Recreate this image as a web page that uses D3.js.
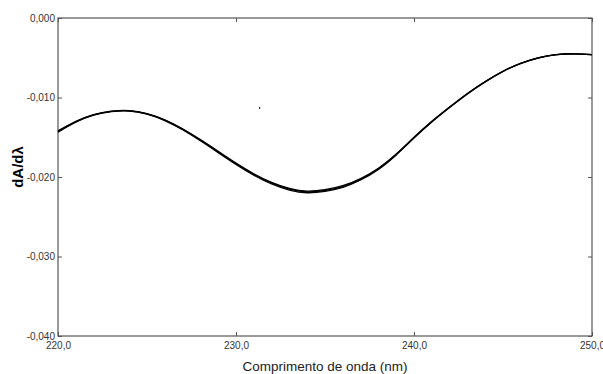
<!DOCTYPE html>
<html><head><meta charset="utf-8">
<script src="https://cdn.jsdelivr.net/npm/d3@7"></script>
<style>body{margin:0;background:#fff;}svg{display:block;}</style>
</head><body>
<script>
const wavelengths = [220,221,222,223,224,225,226,227,228,229,230,231,232,233,234,235,236,237,238,239,240,241,242,243,244,245,246,247,248,249,250];
const seriesA = [-0.01420,-0.01300,-0.01215,-0.01172,-0.01164,-0.01202,-0.01280,-0.01394,-0.01530,-0.01677,-0.01825,-0.01959,-0.02068,-0.02144,-0.02178,-0.02160,-0.02110,-0.02020,-0.01890,-0.01710,-0.01500,-0.01300,-0.01120,-0.00950,-0.00800,-0.00670,-0.00570,-0.00500,-0.00460,-0.00450,-0.00460];
const seriesB = [-0.01435,-0.01310,-0.01222,-0.01178,-0.01170,-0.01210,-0.01290,-0.01406,-0.01545,-0.01694,-0.01843,-0.01978,-0.02088,-0.02164,-0.02198,-0.02180,-0.02130,-0.02038,-0.01905,-0.01722,-0.01510,-0.01308,-0.01126,-0.00955,-0.00804,-0.00673,-0.00572,-0.00502,-0.00461,-0.00451,-0.00461];
const seriesC = [-0.01428,-0.01305,-0.01218,-0.01175,-0.01167,-0.01206,-0.01285,-0.01400,-0.01538,-0.01686,-0.01834,-0.01968,-0.02078,-0.02154,-0.02188,-0.02170,-0.02120,-0.02029,-0.01897,-0.01716,-0.01505,-0.01304,-0.01123,-0.00952,-0.00802,-0.00671,-0.00571,-0.00501,-0.00460,-0.00450,-0.00460];
const strayPoint = [{x:231.3, y:-0.0113}];
const xTicks = [220,230,240,250];
const yTicks = [0,-0.01,-0.02,-0.03,-0.04];
const xTickLabels = ["220,0","230,0","240,0","250,0"];
const yTickLabels = ["0,000","-0,010","-0,020","-0,030","-0,040"];
const xTitle = "Comprimento de onda (nm)";
const yTitle = "dA/dλ";

const W = 603, H = 374;
const m = {left:58, top:18, right:11, bottom:38};
const svg = d3.select("body").append("svg").attr("width",W).attr("height",H);
const x = d3.scaleLinear().domain([220,250]).range([m.left, W-m.right]);
const y = d3.scaleLinear().domain([-0.04,0]).range([H-m.bottom, m.top]);
const font = "'Liberation Sans', Arial, sans-serif";
const axisCol = "#555";

function styleAxis(g){
  g.select(".domain").remove();
  g.selectAll(".tick line").attr("stroke", axisCol);
  g.selectAll(".tick text").attr("fill","#333").style("font-family",font).style("font-size","10px");
}
svg.append("g").attr("transform",`translate(${m.left},0)`)
  .call(d3.axisLeft(y).tickValues(yTicks).tickSize(-4).tickPadding(3).tickFormat((d,i)=>yTickLabels[i]))
  .call(styleAxis);
svg.append("g").attr("transform",`translate(${W-m.right},0)`)
  .call(d3.axisRight(y).tickValues(yTicks).tickSize(-4).tickFormat(""))
  .call(styleAxis);
svg.append("g").attr("transform",`translate(0,${H-m.bottom})`)
  .call(d3.axisBottom(x).tickValues(xTicks).tickSize(-4).tickPadding(6).tickFormat((d,i)=>xTickLabels[i]))
  .call(styleAxis);
svg.append("g").attr("transform",`translate(0,${m.top})`)
  .call(d3.axisTop(x).tickValues(xTicks).tickSize(-4).tickFormat(""))
  .call(styleAxis);
svg.append("rect").attr("x",m.left).attr("y",m.top)
  .attr("width",W-m.left-m.right).attr("height",H-m.top-m.bottom)
  .attr("fill","none").attr("stroke",axisCol).attr("stroke-width",1.2);

const line = d3.line().x((d,i)=>x(wavelengths[i])).y(d=>y(d)).curve(d3.curveNatural);
[seriesA, seriesB, seriesC].forEach(s=>{
  svg.append("path").datum(s).attr("d",line).attr("fill","none")
    .attr("stroke","#000").attr("stroke-width",1.3);
});
svg.selectAll(".stray").data(strayPoint).enter().append("rect")
  .attr("x",d=>x(d.x)).attr("y",d=>y(d.y)-1).attr("width",1).attr("height",2).attr("fill","#000");

svg.append("text").attr("x",(m.left+W-m.right)/2).attr("y",H-3).attr("text-anchor","middle")
  .style("font-family",font).style("font-size","13.5px").attr("fill","#222").text(xTitle);
svg.append("text").attr("transform",`translate(23,${(m.top+H-m.bottom)/2 - 10}) rotate(-90)`)
  .attr("text-anchor","middle").style("font-family",font).style("font-size","15px").style("font-weight","bold")
  .attr("fill","#000").text(yTitle);
</script>
</body></html>
